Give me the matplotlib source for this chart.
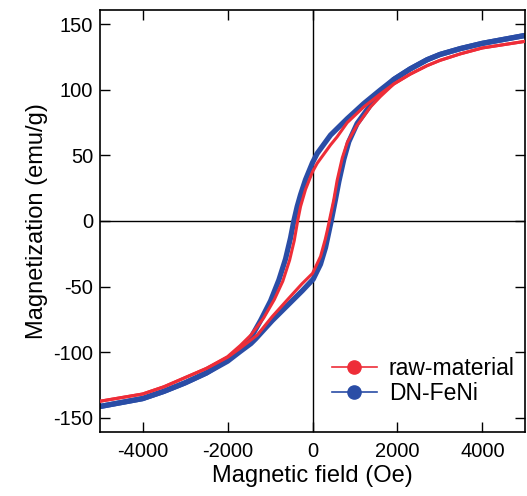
import matplotlib
matplotlib.use("Agg")
import matplotlib.pyplot as plt
from matplotlib.lines import Line2D

plt.rcParams['font.family'] = ['Liberation Sans', 'DejaVu Sans']
plt.rcParams['axes.unicode_minus'] = False

# Hysteresis loops: field (Oe) and magnetization (emu/g), descending and ascending branches
raw_desc_H = [5000, 4000, 3482, 3000, 2698, 2300, 1914, 1600, 1208, 816, 580, 424, 110, 0, -165, -282,
              -350, -430, -540, -700, -900, -1150, -1450, -1700, -2000, -2500, -3000, -3500, -4000, -5000]
raw_desc_M = [137, 132, 127.5, 122.5, 118.5, 112, 104.5, 97, 87, 75, 64.2, 58, 44, 37.5, 24, 11,
              0, -15, -30, -46, -60, -74, -87, -95, -103.5, -112.5, -119.5, -126.5, -132, -137.5]
raw_asc_H = [-5000, -4000, -3500, -3000, -2500, -2000, -1700, -1500, -1300, -950, -560, -250, 0, 190,
             300, 350, 395, 500, 580, 700, 820, 1030, 1365, 1600, 1914, 2300, 2698, 3000, 3482, 4000, 5000]
raw_asc_M = [-137.5, -132, -126.5, -119.5, -112.5, -104, -97, -92, -87, -73, -59, -48, -40, -27,
             -14, -7, 0, 16, 31, 48, 60, 72, 87, 95, 104.5, 112, 118.5, 122.5, 127.5, 132, 137]

dn_desc_H = [5000, 4000, 3482, 3000, 2698, 2300, 1914, 1600, 1208, 816, 424, 110, 0, -165, -282, -361,
             -440, -518, -635, -792, -988, -1224, -1450, -1700, -2000, -2500, -3000, -3500, -4000, -5000]
dn_desc_M = [141.5, 135.5, 131.5, 127, 123, 116, 108, 100, 89.6, 78, 65.5, 51.5, 44.5, 31.5, 20, 11,
             0, -13, -29, -45, -61, -76, -89, -97.5, -106, -116, -123.5, -130, -135.5, -141.5]
dn_asc_H = [-5000, -4000, -3500, -3000, -2500, -2000, -1700, -1450, -1341, -948, -557, -243, 16, 188,
            306, 384, 440, 541, 620, 737, 855, 1051, 1365, 1600, 1914, 2300, 2698, 3000, 3482, 4000, 5000]
dn_asc_M = [-141.5, -135.5, -130, -123.5, -116, -107, -99.5, -93.5, -90, -76, -63.4, -53.3, -44.4, -33,
            -20.3, -8.5, 0, 16.5, 30, 47, 60.5, 74.4, 88.5, 98, 108, 116, 123, 127, 131.5, 135.5, 141.5]

labels = ["raw-material", "DN-FeNi"]
colors = ["#EE2D38", "#2A4DA6"]

fig = plt.figure(figsize=(5.27, 4.96), dpi=100)
ax = fig.add_axes([0.19, 0.129, 0.806, 0.851])

ax.axhline(0, color="black", lw=1.0, zorder=1)
ax.axvline(0, color="black", lw=1.0, zorder=1)

for H, M in ((dn_desc_H, dn_desc_M), (dn_asc_H, dn_asc_M)):
    ax.plot(H, M, color=colors[1], lw=3.8, solid_capstyle="round",
            solid_joinstyle="round", zorder=2)
for H, M in ((raw_desc_H, raw_desc_M), (raw_asc_H, raw_asc_M)):
    ax.plot(H, M, color=colors[0], lw=2.2, solid_capstyle="round",
            solid_joinstyle="round", zorder=3)

ax.set_xlim(-5000, 5000)
ax.set_ylim(-161, 161)
ax.set_xticks([-4000, -2000, 0, 2000, 4000])
ax.set_yticks([-150, -100, -50, 0, 50, 100, 150])
ax.tick_params(direction="in", length=7, width=1.0, labelsize=14.5,
               top=True, right=True)
ax.tick_params(axis="y", pad=5)
ax.tick_params(axis="x", pad=7)
for s in ax.spines.values():
    s.set_linewidth(1.2)

ax.set_xlabel("Magnetic field (Oe)", fontsize=17, labelpad=3)
ax.set_ylabel("Magnetization (emu/g)", fontsize=17, labelpad=4)

handles = [Line2D([], [], color=c, lw=1.2, marker="o", markersize=9.5) for c in colors]
ax.legend(handles, labels, loc="lower right", frameon=False, fontsize=16.5,
          handlelength=2.0, handletextpad=0.5, labelspacing=0.1,
          borderaxespad=0, borderpad=0,
          bbox_to_anchor=(0.976, 0.064))

fig.savefig("out.png", dpi=100)
